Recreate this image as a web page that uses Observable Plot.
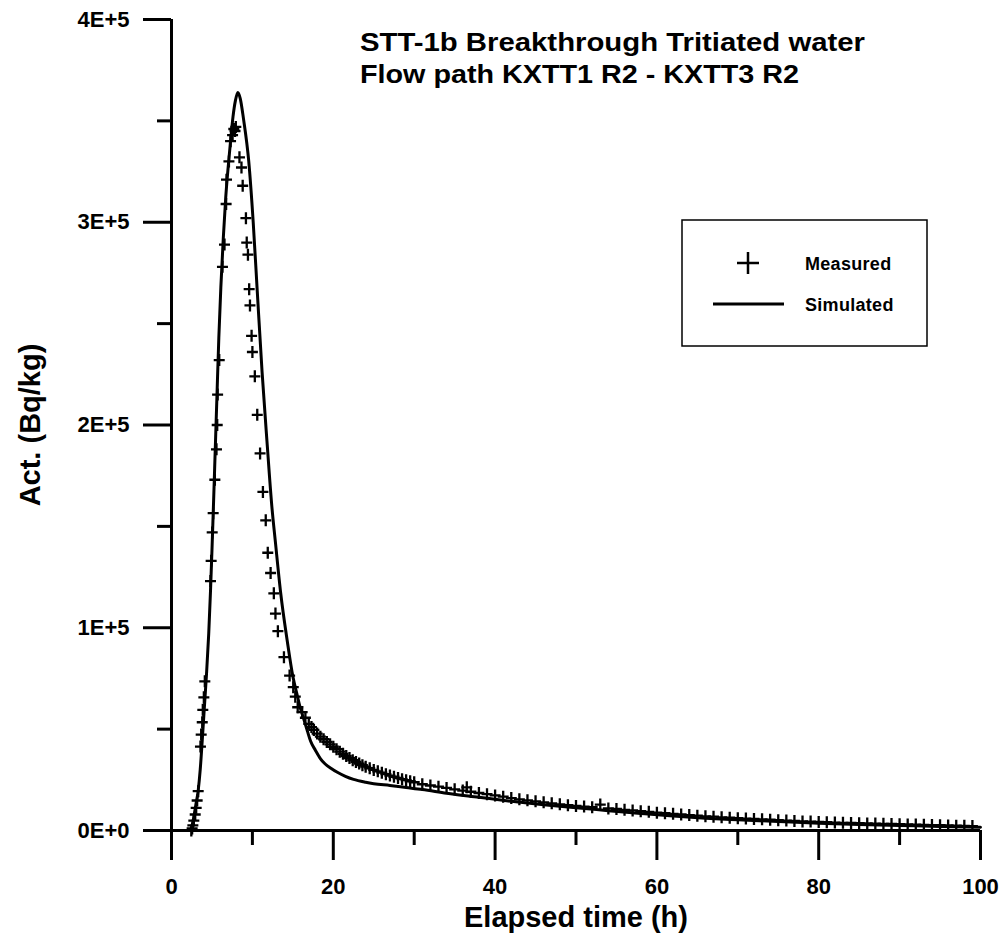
<!DOCTYPE html>
<html>
<head>
<meta charset="utf-8">
<script src="https://cdn.jsdelivr.net/npm/d3@7"></script>
<script src="https://cdn.jsdelivr.net/npm/@observablehq/plot@0.6"></script>
<style>
  html, body { margin: 0; padding: 0; background: #fff; }
  #chart svg { display: block; }
</style>
</head>
<body>
<div id="chart"></div>
<script>
// ---- data ----
const measuredTime = [
  2.45, 2.55, 2.64, 2.76, 2.93, 3.05, 3.17, 3.30, 3.58, 3.67, 3.80, 3.87, 4.00, 4.12,
  4.82, 4.90, 5.03, 5.15, 5.36, 5.56, 5.65, 5.70, 5.90, 6.30, 6.55, 6.75, 6.80, 7.10,
  7.30, 7.55, 7.70, 7.85, 7.95,
  8.40, 8.65, 8.80, 9.20, 9.30, 9.45, 9.60, 9.70, 9.90, 10.00, 10.30, 10.60, 10.95,
  11.30, 11.65, 11.90, 12.25, 12.65, 12.85, 13.15, 13.90, 14.60, 15.05, 15.30, 15.60,
  16.15, 16.55, 16.97, 17.30, 17.60,
  18.0, 18.4, 18.8, 19.2, 19.6, 20.0, 20.4, 20.8, 21.2, 21.6, 22.0, 22.4, 22.8, 23.2,
  23.6, 24.0, 24.5, 25.0, 25.5, 26.0, 26.5, 27.0, 27.5, 28.0, 28.5, 29.0, 29.5, 30.0,
  31, 32, 33, 34, 35, 36, 36.5, 37, 38, 39, 40, 41, 42, 43, 44, 45, 46, 47, 48, 49, 50,
  51, 52, 53, 54, 55, 56, 57, 58, 59, 60, 61, 62, 63, 64, 65, 66, 67, 68, 69, 70,
  71, 72, 73, 74, 75, 76, 77, 78, 79, 80, 81, 82, 83, 84, 85, 86, 87, 88, 89, 90,
  91, 92, 93, 94, 95, 96, 97, 98, 99
];
const measuredAct = [
  0, 1000, 2500, 4900, 7900, 11200, 14800, 19400, 41400, 47300, 53400, 59500, 65700, 73600,
  123000, 133000, 147000, 156500, 173000, 188000, 200000, 215000, 232000, 278000, 289000, 309000, 321000, 330000,
  340000, 343000, 346000, 345000, 347000,
  332000, 327000, 318000, 302000, 290000, 284000, 267000, 259000, 244000, 236000, 224000, 205000, 186000,
  167000, 153000, 137000, 127000, 117000, 107000, 98300, 85500, 76400, 70700, 66000, 60800,
  58400, 55600, 52600, 51000, 49600,
  47800, 46300, 45000, 43700, 42500, 41300, 40100, 38900, 37800, 36700, 35700, 34700, 33800, 33000,
  32200, 31500, 30700, 29900, 29200, 28500, 27800, 27100, 26500, 25900, 25300, 24800, 24300, 23800,
  22800, 22200, 21600, 21000, 20300, 19700, 21300, 19100, 18500, 17900, 17300, 16700, 16000, 15400, 14900, 14400, 13900, 13400, 12900, 12500, 12100,
  11800, 11500, 12800, 10900, 10600, 10200, 9900, 9500, 9200, 8800, 8500, 8200, 7900, 7600, 7300, 7000, 6800, 6500, 6300, 6100,
  5900, 5700, 5500, 5300, 5100, 4900, 4700, 4500, 4400, 4200, 4100, 3900, 3800, 3700, 3600, 3500, 3400, 3300, 3200, 3100,
  3000, 2900, 2800, 2700, 2600, 2500, 2400, 2300, 2200
];
const simTime = [
  2.2, 2.5, 2.76, 3.0, 3.3, 3.55, 3.8, 4.05, 4.33, 4.6, 4.82, 5.0, 5.2, 5.4, 5.6, 5.85,
  6.1, 6.4, 6.7, 7.0, 7.3, 7.6, 7.9, 8.2, 8.5, 8.9, 9.55, 10.1, 10.6, 11.2, 11.8, 12.4,
  12.85, 13.5, 14.3, 15.0, 15.5, 15.95, 16.35, 16.8, 17.2, 17.8, 18.4, 19.0, 19.7, 20.5,
  21.5, 22.5, 24.0, 25.0, 27.0, 29.0, 31.0, 34.0, 38.0, 42.0, 46.0, 50.0, 54.0, 58.0,
  62.0, 66.0, 70.0, 75.0, 80.0, 85.0, 90.0, 95.0, 100.0
];
const simAct = [
  0, 1500, 6600, 12500, 19700, 30000, 44400, 60000, 77300, 97000, 118000, 138000, 162000, 187000, 212000, 243000,
  268000, 292000, 312000, 327000, 340000, 352000, 360000, 364000, 361000, 351000, 330000, 300000, 266000, 226000, 192000, 160000,
  142000, 117000, 93700, 76000, 67400, 60000, 55000, 49000, 44000, 39500, 35500, 32800, 30700, 28700,
  26700, 25200, 23800, 23100, 22200, 21200, 20200, 18400, 16400, 14400, 12700, 11200, 9800, 8400,
  7100, 6100, 5300, 4400, 3600, 3000, 2500, 2000, 1600
];
const xTicksMajor = [0, 20, 40, 60, 80, 100];
const xTicksMinor = [10, 30, 50, 70, 90];
const yTicksMajor = [0, 100000, 200000, 300000, 400000];
const yTickLabels = ["0E+0", "1E+5", "2E+5", "3E+5", "4E+5"];
const yTicksMinor = [50000, 150000, 250000, 350000];
const titleLines = ["STT-1b Breakthrough Tritiated water", "Flow path KXTT1 R2 - KXTT3 R2"];
const xLabel = "Elapsed time (h)";
const yLabel = "Act. (Bq/kg)";
const legendLabels = ["Measured", "Simulated"];

// ---- build tables ----
const measured = measuredTime.map((t, i) => ({t, a: measuredAct[i]}));
const simulated = simTime.map((t, i) => ({t, a: simAct[i]}));

const FONT = "'Liberation Sans', Arial, Helvetica, sans-serif";

const plusSymbol = {
  draw(ctx, size) {
    ctx.moveTo(-5.5, 0); ctx.lineTo(5.5, 0);
    ctx.moveTo(0, -6); ctx.lineTo(0, 6);
  }
};

const svg = Plot.plot({
  width: 1003,
  height: 939,
  marginLeft: 171,
  marginRight: 23,
  marginTop: 19,
  marginBottom: 109,
  style: {fontFamily: FONT, fontWeight: "bold", fontSize: "22px", background: "#fff", color: "#000"},
  x: {domain: [0, 100]},
  y: {domain: [0, 400000]},
  marks: [
    Plot.axisX(xTicksMajor, {tickSize: 30, tickPadding: 18, strokeWidth: 3, fontSize: 22, fontWeight: "bold", tickFormat: d => String(d), label: null}),
    Plot.axisX(xTicksMinor, {tickSize: 15, strokeWidth: 3, tickFormat: () => "", label: null}),
    Plot.axisY(yTicksMajor, {tickSize: 28, tickPadding: 14, strokeWidth: 3, fontSize: 22, fontWeight: "bold", tickFormat: d => yTickLabels[yTicksMajor.indexOf(d)], label: null}),
    Plot.axisY(yTicksMinor, {tickSize: 14, strokeWidth: 3, tickFormat: () => "", label: null}),
    Plot.ruleY([0], {stroke: "#000", strokeWidth: 3}),
    Plot.ruleX([0], {stroke: "#000", strokeWidth: 3}),
    Plot.line(simulated, {x: "t", y: "a", stroke: "#000", strokeWidth: 3, curve: "monotone-x"}),
    Plot.dot(measured, {x: "t", y: "a", symbol: plusSymbol, stroke: "#000", strokeWidth: 2.3, fill: "none", r: 5}),
    Plot.text([xLabel], {frameAnchor: "bottom", dy: 87, lineAnchor: "middle", textAnchor: "middle", fontSize: 29, fontWeight: "bold", fill: "#000"}),
    Plot.text([yLabel], {frameAnchor: "left", dx: -141, rotate: -90, lineAnchor: "middle", textAnchor: "middle", fontSize: 29, fontWeight: "bold", fill: "#000"})
  ]
});

const s = d3.select(svg);

// title (inside the plot area)
const titleG = s.append("g").attr("font-family", FONT).attr("font-weight", "bold")
  .attr("fill", "#000").attr("text-anchor", "start");
titleG.append("text").attr("x", 360).attr("y", 51).attr("font-size", 25)
  .attr("textLength", 505).attr("lengthAdjust", "spacingAndGlyphs").text(titleLines[0]);
titleG.append("text").attr("x", 360).attr("y", 83).attr("font-size", 25)
  .attr("textLength", 439).attr("lengthAdjust", "spacingAndGlyphs").text(titleLines[1]);

// legend
const lg = s.append("g").attr("font-family", FONT).attr("font-weight", "bold").attr("text-anchor", "start");
lg.append("rect").attr("x", 682).attr("y", 220).attr("width", 245).attr("height", 126)
  .attr("fill", "#fff").attr("stroke", "#000").attr("stroke-width", 1.5);
lg.append("path").attr("d", "M737,263H759M748,252V274").attr("stroke", "#000").attr("stroke-width", 2.5).attr("fill", "none");
lg.append("line").attr("x1", 713).attr("x2", 784).attr("y1", 304).attr("y2", 304).attr("stroke", "#000").attr("stroke-width", 3);
lg.append("text").attr("x", 805).attr("y", 270).attr("font-size", 18).attr("fill", "#000").attr("letter-spacing", 0.3).text(legendLabels[0]);
lg.append("text").attr("x", 805).attr("y", 311).attr("font-size", 18).attr("fill", "#000").attr("letter-spacing", 0.3).text(legendLabels[1]);

document.getElementById("chart").appendChild(svg);
</script>
</body>
</html>
